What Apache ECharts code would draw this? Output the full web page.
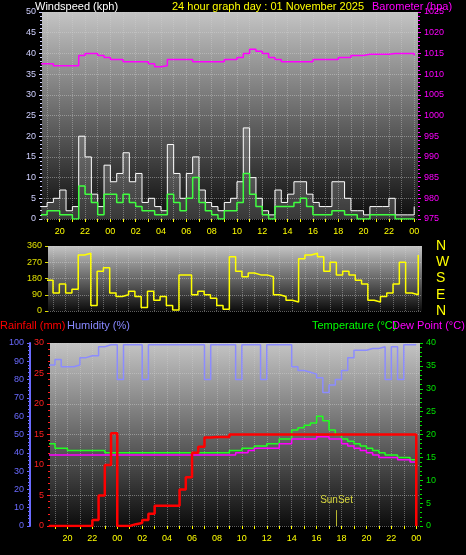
<!DOCTYPE html>
<html>
<head>
<meta charset="utf-8">
<script src="https://cdn.jsdelivr.net/npm/echarts@6/dist/echarts.min.js"></script>
<style>html,body{margin:0;padding:0;background:#000}#main{width:466px;height:555px}</style>
</head>
<body>
<div id="main"></div>
<script>
// half-hour samples, first one at 18:30 the day before
const startHour = -5.5
const stepHours = 0.5

const gust = [3,4,5,7,2,3,20,15,6,3,13,9,11,16,9,11,4,5,3,2,18,11,5,11,15,7,4,3,2,4,5,9,22,10,5,2,1,7,4,6,9,9,6,4,3,3,9,9,5,2,2,1,3,3,3,5,1,1,1,3]
const avgWind = [1,2,2,1,1,0,8,6,4,1,6,6,4,6,4,3,2,2,1,1,6,4,2,5,10,4,2,1,0,2,2,4,11,6,3,1,0,3,3,3,4,5,3,1,1,1,2,2,1,1,0,0,1,1,1,1,0,0,0,0]
const baro = [1012.5,1012.5,1012,1012,1012,1012,1014.5,1015,1015,1014.5,1014,1013.5,1013.5,1013,1013,1013,1013,1012.5,1011.8,1012,1013.5,1013.5,1013.5,1013.5,1013,1013,1013,1013,1013,1013.5,1013.5,1014,1015,1016,1015.5,1015,1014,1013.5,1013,1013,1013,1013,1013,1013.5,1013.5,1013.5,1013.5,1014,1014,1014.5,1014.5,1014.8,1014.8,1014.8,1014.8,1015,1015,1015,1015,1014.5]
const windDir = [170,100,150,100,120,310,320,30,220,240,100,80,90,110,80,20,110,60,80,30,5,200,200,90,110,90,70,30,10,300,220,190,210,200,200,190,90,80,60,50,290,310,320,300,220,270,200,220,200,170,150,60,50,80,100,150,270,100,90,310]
const humidity = [88,91,87,87,88,92,93,93,98,99,99,80,99,99,99,80,99,99,99,99,99,99,99,99,99,80,99,99,99,99,80,99,99,99,80,99,99,99,99,87,85,84,83,81,73,77,80,85,92,96,96,97,97,98,80,98,80,99,99,99]
const temperature = [18,17,17,16.5,16.5,16.5,16.5,16.5,16.5,16,16,16,16,16,16,16,16,16,16,16,16,16,16,16,16,16,16,16,16,16.5,16.5,17,17,17.5,17.5,18,18,19,19,21,21.5,22,22.5,24,23,21,20,19,18.5,18,17.5,17,16.5,16,15.5,15.5,15,15,14.5,14]
const dewPoint = [15.5,15.5,15.5,15.5,15.5,15.5,15.5,15.5,15.5,15.5,15.5,15.5,15.5,15.5,15.5,15.5,15.5,15.5,15.5,15.5,15.5,15.5,15.5,15.5,15.5,15.5,15.5,15.5,15.5,15.5,16,16,16.5,17,17,17,17,18,18,19,19,19,19,19.5,19.5,19,19,18,17.5,17,16.5,16,15.5,15,15,15,14.5,14.5,14,13.5]
const rainfall = [0,0,0,0,0,0,0,1,5,10,15.2,0,0,0.3,0.5,1,2,3.3,3.3,3.3,3.3,6,8,12,13,14.5,14.6,14.6,14.6,15,15,15,15,15,15,15,15,15,15,15,15,15,15,15,15,15,15,15,15,15,15,15,15,15,15,15,15,15,15,0]
const hourLabels = [-4,-2,0,2,4,6,8,10,12,14,16,18,20,22,24]
const hourTicks = [-5,-4,-3,-2,-1,0,1,2,3,4,5,6,7,8,9,10,11,12,13,14,15,16,17,18,19,20,21,22,23,24]
const dirNames = {0:'N',90:'E',180:'S',270:'W',360:'N'}
const sunsetHour = 17.6

const pairs = arr => arr.map((v, i) => [startHour + i * stepHours, v])

const bg = new echarts.graphic.LinearGradient(0, 0, 0, 1, [
  {offset: 0, color: '#c4c4c4'}, {offset: 1, color: '#0c0c0c'}
])
const font = 'Liberation Sans, Arial, sans-serif'
const dotted = {show: true, lineStyle: {color: 'rgba(210,210,210,0.45)', type: 'dotted'}}

function xAxis(gridIndex, showLabels) {
  return {
    type: 'value', gridIndex, min: -5.4, max: 24.3,
    axisLine: {show: false, onZero: false},
    axisTick: {show: showLabels, customValues: hourTicks, length: 3, lineStyle: {color: '#ffff00'}},
    axisLabel: {show: showLabels, customValues: hourLabels, color: '#ffff00', fontSize: 9, fontFamily: font,
      formatter: v => String(((v % 24) + 24) % 24).padStart(2, '0')},
    splitLine: {show: true, customValues: hourTicks, lineStyle: {color: 'rgba(210,210,210,0.4)', type: 'dotted'}}
  }
}
function yAxis(gridIndex, pos, min, max, interval, color, extra) {
  return Object.assign({
    type: 'value', gridIndex, position: pos, min, max, interval,
    axisLine: {show: false, onZero: false},
    axisTick: {show: true, length: 3, lineStyle: {color}},
    minorTick: {show: true, splitNumber: 5, length: 2, lineStyle: {color}},
    axisLabel: {color, fontSize: 9, fontFamily: font, margin: 6, formatter: v => String(v)},
    splitLine: {show: false}
  }, extra || {})
}
function line(name, data, xi, yi, color, width, extra) {
  return Object.assign({
    type: 'line', name, data: pairs(data), xAxisIndex: xi, yAxisIndex: yi,
    step: 'end', symbol: 'none', lineStyle: {color, width}, z: 3
  }, extra || {})
}

const chart = echarts.init(document.getElementById('main'))
chart.setOption({
  backgroundColor: '#000',
  animation: false,
  graphic: [
    {type: 'text', left: 35, top: 1, style: {text: 'Windspeed (kph)', fill: '#fff', font: '11px ' + font}},
    {type: 'text', left: 172, top: 1, style: {text: '24 hour graph day : 01 November 2025', fill: '#ffff00', font: '11px ' + font}},
    {type: 'text', left: 372, top: 1, style: {text: 'Barometer (hpa)', fill: '#ff00ff', font: '11px ' + font}},
    {type: 'text', left: 0, top: 320, style: {text: 'Rainfall (mm)', fill: '#ff0000', font: '11px ' + font}},
    {type: 'text', left: 67, top: 320, style: {text: 'Humidity (%)', fill: '#8888ff', font: '11px ' + font}},
    {type: 'text', left: 312, top: 320, style: {text: 'Temperature (°C)', fill: '#00ff00', font: '11px ' + font}},
    {type: 'text', left: 392, top: 320, style: {text: 'Dew Point (°C)', fill: '#ff00ff', font: '11px ' + font}}
  ],
  grid: [
    {left: 42, right: 48, top: 12, height: 207, show: true, backgroundColor: bg, borderWidth: 0},
    {left: 48, right: 44, top: 246, height: 65, show: true, backgroundColor: bg, borderWidth: 0},
    {left: 50, right: 46, top: 343, height: 183, show: true, backgroundColor: bg, borderWidth: 0}
  ],
  xAxis: [xAxis(0, true), xAxis(1, false), xAxis(2, true)],
  yAxis: [
    yAxis(0, 'left', 0, 50, 5, '#d0d0ff', {splitLine: dotted}),
    yAxis(0, 'right', 975, 1025, 5, '#ff00ff'),
    yAxis(1, 'left', 0, 360, 90, '#e0e000', {splitLine: dotted, minorTick: {show: false}}),
    yAxis(1, 'right', 0, 360, 90, '#ffff00', {axisTick: {show: false}, minorTick: {show: false},
      axisLabel: {color: '#ffff00', fontSize: 14, fontFamily: font, margin: 14, formatter: v => dirNames[v]}}),
    yAxis(2, 'left', 0, 30, 5, '#ff2020', {splitLine: dotted}),
    yAxis(2, 'left', 0, 100, 10, '#6a6aff', {offset: 20,
      axisLine: {show: true, onZero: false, lineStyle: {color: '#6a6aff', width: 2}}}),
    yAxis(2, 'right', 0, 40, 5, '#00e000')
  ],
  series: [
    line('Gust', gust, 0, 0, '#ffffff', 1, {areaStyle: {color: 'rgba(220,220,220,0.3)'}}),
    line('Wind', avgWind, 0, 0, '#40ff40', 1.5),
    line('Barometer', baro, 0, 1, '#ff00ff', 1.5),
    line('Direction', windDir, 1, 2, '#ffff00', 1.5),
    line('Humidity', humidity, 2, 5, '#8c8cff', 1.5),
    line('Temperature', temperature, 2, 6, '#20ff20', 1.5),
    line('Dew Point', dewPoint, 2, 6, '#ff00ff', 1.5),
    line('Rainfall', rainfall, 2, 4, '#ff0000', 2.5, {z: 4,
      markLine: {symbol: 'none', silent: true, lineStyle: {color: '#b8b830', type: 'solid', width: 1},
        label: {show: true, position: 'end', formatter: 'SunSet', color: '#d8d840', fontSize: 10, fontFamily: font},
        data: [[{coord: [sunsetHour, 0]}, {coord: [sunsetHour, 2.6]}]]}})
  ]
})
</script>
</body>
</html>
